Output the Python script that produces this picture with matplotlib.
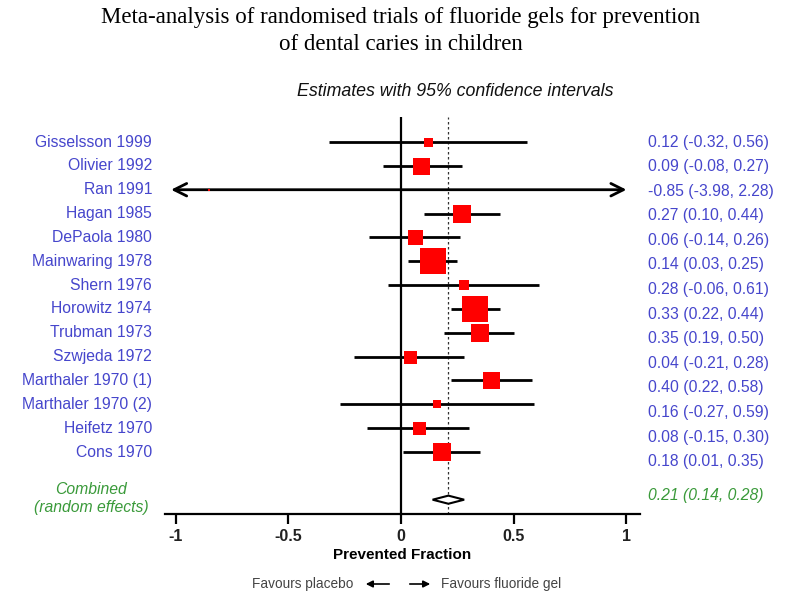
import numpy as np
import matplotlib.pyplot as plt
from matplotlib.patches import Polygon, FancyArrowPatch

studies = ["Gisselsson 1999", "Olivier 1992", "Ran 1991", "Hagan 1985", "DePaola 1980",
           "Mainwaring 1978", "Shern 1976", "Horowitz 1974", "Trubman 1973", "Szwjeda 1972",
           "Marthaler 1970 (1)", "Marthaler 1970 (2)", "Heifetz 1970", "Cons 1970"]
pf =    [0.12, 0.09, -0.85, 0.27, 0.06, 0.14, 0.28, 0.33, 0.35, 0.04, 0.40, 0.16, 0.08, 0.18]
lower = [-0.32, -0.08, -3.98, 0.10, -0.14, 0.03, -0.06, 0.22, 0.19, -0.21, 0.22, -0.27, -0.15, 0.01]
upper = [0.56, 0.27, 2.28, 0.44, 0.26, 0.25, 0.61, 0.44, 0.50, 0.28, 0.58, 0.59, 0.30, 0.35]
# relative study weights (drawn as square size)
weight = [9, 17, 2.5, 18, 15, 27, 10, 26, 18, 13, 17, 8, 13, 18]

pooled = 0.21
pooled_lo = 0.14
pooled_hi = 0.28

xticks = [-1, -0.5, 0, 0.5, 1]
xticklabels = ["-1", "-0.5", "0", "0.5", "1"]

W, H = 786, 592
fig = plt.figure(figsize=(W / 100, H / 100), dpi=100)
ax = fig.add_axes([165 / W, 1 - 514 / H, 475 / W, 397 / H])

blue = "#4646cc"
green = "#3a9a3a"
sans = "Liberation Sans"

xmin, xmax = -1.047, 1.06
ax.set_xlim(xmin, xmax)
ax.set_ylim(15.6, -1.05)

ax.axvline(0, color="black", lw=1.6, zorder=1)
ax.axvline(pooled, color="#333333", lw=0.9, ls=(0, (2, 2)), zorder=1)

for i in range(len(studies)):
    lo, hi = lower[i], upper[i]
    if lo < -1 or hi > 1:
        # interval runs off the scale: arrows at both ends
        ax.annotate("", xy=(max(lo, -1.02), i), xytext=(min(hi, 1.0), i),
                    arrowprops=dict(arrowstyle="<->,head_length=0.9,head_width=0.45",
                                    lw=2, color="black", shrinkA=0, shrinkB=0),
                    annotation_clip=False)
    else:
        ax.plot([lo, hi], [i, i], color="black", lw=2, solid_capstyle="butt", zorder=2)
    ax.plot(pf[i], i, marker="s", ms=weight[i] * 0.72, color="red", mec="red", mew=0, zorder=3)

    ax.text(xmin - 13 / 225.5, i, studies[i], ha="right", va="center", color=blue,
            fontsize=11.3, family=sans, clip_on=False)
    ax.text(1.095, i * 1.031, "%.2f (%.2f, %.2f)" % (pf[i], lower[i], upper[i]),
            ha="left", va="center", color=blue, fontsize=11.3, family=sans, clip_on=False)

yc = 15.0
diamond = Polygon([[pooled_lo, yc], [pooled, yc - 0.17], [pooled_hi, yc], [pooled, yc + 0.17]],
                  closed=True, facecolor="white", edgecolor="black", lw=1.5, zorder=3)
ax.add_patch(diamond)
ax.text(-1.376, yc - 0.05, "Combined\n(random effects)", ha="center", va="center",
        color=green, fontsize=11.3, family=sans, style="italic", linespacing=1.2, clip_on=False)
ax.text(1.095, 14.84, "%.2f (%.2f, %.2f)" % (pooled, pooled_lo, pooled_hi), ha="left",
        va="center", color=green, fontsize=11.3, family=sans, style="italic", clip_on=False)

for s in ["top", "right", "left"]:
    ax.spines[s].set_visible(False)
ax.spines["bottom"].set_linewidth(1.6)
ax.set_yticks([])
ax.set_xticks(xticks)
ax.set_xticklabels(xticklabels, family=sans, fontsize=11.5, fontweight="bold", color="#222222")
ax.tick_params(axis="x", direction="out", length=7, width=1.6, pad=4)
ax.set_xlabel("Prevented Fraction", family=sans, fontsize=11, fontweight="bold", labelpad=3)

fig.text(401 / W, 1 - 18 / H, "Meta-analysis of randomised trials of fluoride gels for prevention",
         ha="center", va="center", family="Liberation Serif", fontsize=16.5)
fig.text(401 / W, 1 - 45 / H, "of dental caries in children",
         ha="center", va="center", family="Liberation Serif", fontsize=16.5)
fig.text(455 / W, 1 - 92 / H, "Estimates with 95% confidence intervals",
         ha="center", va="center", family=sans, fontsize=12.8, style="italic", color="#111111")

fig.text(353 / W, 1 - 584 / H, "Favours placebo", ha="right", va="center",
         family=sans, fontsize=9.8, color="#444444")
fig.text(441 / W, 1 - 584 / H, "Favours fluoride gel", ha="left", va="center",
         family=sans, fontsize=9.8, color="#444444")
for x0, x1 in [(392, 363), (407, 433)]:
    fig.patches.append(FancyArrowPatch(
        (x0 / W, 1 - 584 / H), (x1 / W, 1 - 584 / H), transform=fig.transFigure,
        arrowstyle="-|>,head_length=4,head_width=2", lw=1.2, color="black"))

fig.savefig("out.png", dpi=100)
